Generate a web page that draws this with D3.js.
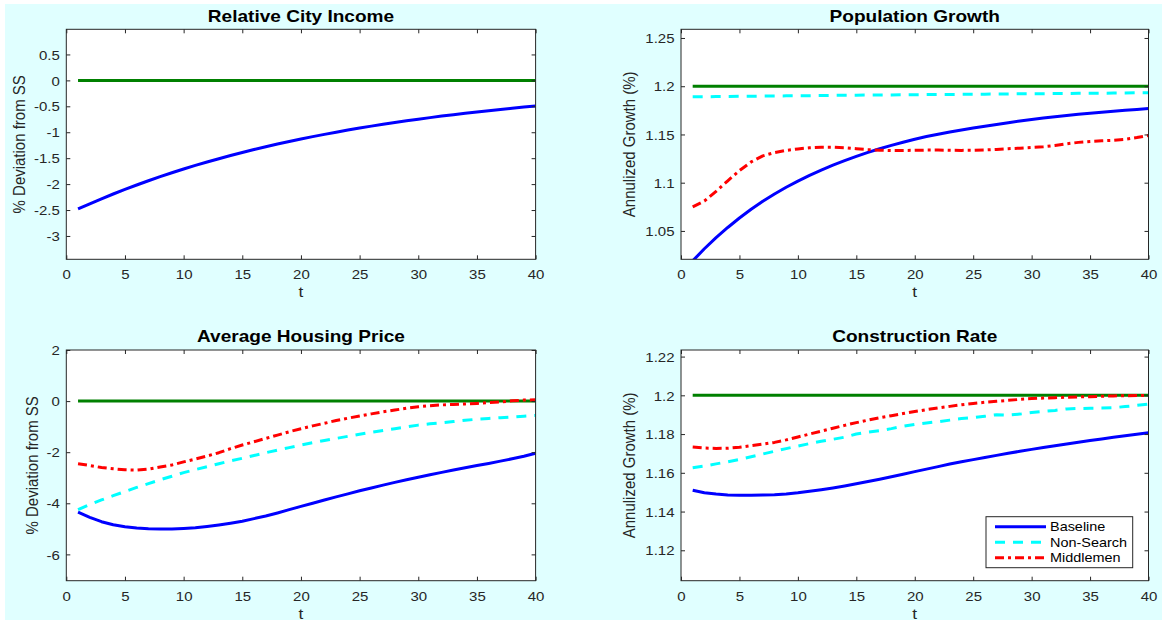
<!DOCTYPE html>
<html>
<head>
<meta charset="utf-8">
<script src="https://cdn.jsdelivr.net/npm/d3@7/dist/d3.min.js"></script>
<style>
  body { margin: 0; background: #fff; }
  text { font-family: "Liberation Sans", Arial, Helvetica, sans-serif; }
</style>
</head>
<body>
<svg id="fig" width="1162" height="620"></svg>
<script>
/* ---------- data ---------- */
const tSteps = [1,2,3,4,5,6,7,8,9,10,11,12,13,14,15,16,17,18,19,20,
                21,22,23,24,25,26,27,28,29,30,31,32,33,34,35,36,37,38,39,40]

const xTicks = [0,5,10,15,20,25,30,35,40]

// Relative City Income
const incomeTicks = [-3,-2.5,-2,-1.5,-1,-0.5,0,0.5]
const incomeSS = [0,0,0,0,0,0,0,0,0,0,0,0,0,0,0,0,0,0,0,0,
                  0,0,0,0,0,0,0,0,0,0,0,0,0,0,0,0,0,0,0,0]
const incomeBaseline = [-2.480,-2.380,-2.283,-2.191,-2.102,-2.017,-1.935,-1.857,-1.782,-1.709,
                        -1.640,-1.574,-1.510,-1.449,-1.390,-1.334,-1.280,-1.228,-1.178,-1.131,
                        -1.085,-1.041,-0.999,-0.958,-0.919,-0.882,-0.847,-0.812,-0.779,-0.748,
                        -0.718,-0.688,-0.661,-0.634,-0.608,-0.584,-0.560,-0.537,-0.515,-0.495]

// Population Growth
const popTicks = [1.05,1.1,1.15,1.2,1.25]
const popSS = [1.2,1.2,1.2,1.2,1.2,1.2,1.2,1.2,1.2,1.2,1.2,1.2,1.2,1.2,1.2,1.2,1.2,1.2,1.2,1.2,
               1.2,1.2,1.2,1.2,1.2,1.2,1.2,1.2,1.2,1.2,1.2,1.2,1.2,1.2,1.2,1.2,1.2,1.2,1.2,1.2]
const popBaseline = [1.0190,1.0315,1.0430,1.0536,1.0634,1.0724,1.0807,1.0883,1.0953,1.1017,
                     1.1076,1.1131,1.1182,1.1229,1.1273,1.1314,1.1352,1.1387,1.1420,1.1451,
                     1.1478,1.1503,1.1526,1.1547,1.1567,1.1586,1.1604,1.1622,1.1639,1.1655,
                     1.1670,1.1684,1.1697,1.1709,1.1720,1.1731,1.1741,1.1750,1.1759,1.1768]
const popNonSearch = [1.1890,1.1891,1.1893,1.1894,1.1895,1.1896,1.1898,1.1899,1.1900,1.1901,
                      1.1902,1.1903,1.1905,1.1906,1.1907,1.1908,1.1909,1.1910,1.1911,1.1912,
                      1.1913,1.1914,1.1915,1.1916,1.1917,1.1918,1.1919,1.1920,1.1921,1.1922,
                      1.1923,1.1924,1.1925,1.1926,1.1927,1.1928,1.1929,1.1930,1.1932,1.1933]
const popMiddlemen = [1.0750,1.0810,1.0910,1.1020,1.1125,1.1215,1.1278,1.1312,1.1335,1.1350,
                      1.1362,1.1368,1.1368,1.1362,1.1352,1.1343,1.1337,1.1334,1.1334,1.1336,
                      1.1338,1.1338,1.1336,1.1335,1.1336,1.1339,1.1345,1.1352,1.1358,1.1365,
                      1.1372,1.1385,1.1403,1.1418,1.1428,1.1435,1.1440,1.1450,1.1468,1.1490]

// Average Housing Price
const priceTicks = [-6,-4,-2,0,2]
const priceSS = [0,0,0,0,0,0,0,0,0,0,0,0,0,0,0,0,0,0,0,0,
                 0,0,0,0,0,0,0,0,0,0,0,0,0,0,0,0,0,0,0,0]
const priceBaseline = [-4.35,-4.55,-4.72,-4.84,-4.92,-4.97,-5.00,-5.01,-5.01,-4.99,
                       -4.96,-4.91,-4.85,-4.78,-4.70,-4.60,-4.50,-4.38,-4.25,-4.12,
                       -4.00,-3.87,-3.75,-3.63,-3.51,-3.40,-3.29,-3.18,-3.08,-2.98,
                       -2.88,-2.79,-2.70,-2.61,-2.52,-2.44,-2.35,-2.26,-2.16,-2.04]
const priceNonSearch = [-4.25,-4.05,-3.87,-3.70,-3.54,-3.38,-3.23,-3.08,-2.94,-2.80,
                        -2.68,-2.57,-2.45,-2.34,-2.24,-2.13,-2.02,-1.92,-1.82,-1.72,
                        -1.63,-1.54,-1.46,-1.38,-1.30,-1.22,-1.15,-1.08,-1.01,-0.94,
                        -0.89,-0.85,-0.80,-0.75,-0.71,-0.68,-0.65,-0.62,-0.59,-0.56]
const priceMiddlemen = [-2.45,-2.52,-2.60,-2.65,-2.69,-2.70,-2.66,-2.58,-2.50,-2.38,
                        -2.27,-2.15,-2.02,-1.86,-1.72,-1.59,-1.46,-1.33,-1.20,-1.08,
                        -0.97,-0.87,-0.76,-0.67,-0.58,-0.50,-0.42,-0.35,-0.28,-0.22,
                        -0.18,-0.15,-0.13,-0.11,-0.09,-0.06,-0.03,0.01,0.04,0.05]

// Construction Rate
const constrTicks = [1.12,1.14,1.16,1.18,1.2,1.22]
const constrSS = [1.2,1.2,1.2,1.2,1.2,1.2,1.2,1.2,1.2,1.2,1.2,1.2,1.2,1.2,1.2,1.2,1.2,1.2,1.2,1.2,
                  1.2,1.2,1.2,1.2,1.2,1.2,1.2,1.2,1.2,1.2,1.2,1.2,1.2,1.2,1.2,1.2,1.2,1.2,1.2,1.2]
const constrBaseline = [1.1510,1.1497,1.1490,1.1486,1.1484,1.1484,1.1485,1.1487,1.1491,1.1497,
                        1.1505,1.1513,1.1522,1.1532,1.1543,1.1555,1.1567,1.1580,1.1593,1.1606,
                        1.1619,1.1632,1.1645,1.1657,1.1668,1.1679,1.1690,1.1701,1.1711,1.1721,
                        1.1731,1.1740,1.1749,1.1758,1.1767,1.1775,1.1783,1.1791,1.1799,1.1807]
const constrNonSearch = [1.1626,1.1635,1.1646,1.1657,1.1669,1.1683,1.1697,1.1711,1.1725,1.1738,
                         1.1751,1.1763,1.1773,1.1784,1.1800,1.1810,1.1818,1.1828,1.1840,1.1850,
                         1.1857,1.1864,1.1872,1.1880,1.1885,1.1892,1.1900,1.1898,1.1903,1.1911,
                         1.1917,1.1922,1.1930,1.1932,1.1933,1.1934,1.1936,1.1942,1.1948,1.1955]
const constrMiddlemen = [1.1733,1.1728,1.1726,1.1727,1.1732,1.1740,1.1748,1.1757,1.1770,1.1785,
                         1.1800,1.1815,1.1830,1.1845,1.1859,1.1872,1.1884,1.1895,1.1906,1.1916,
                         1.1926,1.1935,1.1943,1.1951,1.1958,1.1964,1.1969,1.1974,1.1979,1.1983,
                         1.1986,1.1988,1.1990,1.1992,1.1993,1.1995,1.1997,1.1998,1.1999,1.2000]

const legendNames = ["Baseline", "Non-Search", "Middlemen"]

/* ---------- styles ---------- */
const axisColor = "#262626"
const stretch = 1.155   // the reference is a bit wider than tall
const styles = {
  ss:   { color: "#008000", dash: null },
  base: { color: "#0000ff", dash: null },
  nons: { color: "#00ffff", dash: "10,8" },
  mid:  { color: "#ff0000", dash: "9,4,3,4" }
}

const panels = [
  { title: "Relative City Income", ylabel: "% Deviation from SS",
    box: [66.3, 535.6, 29.3, 259.3], yDomain: [-3.45, 0.985], yTicks: incomeTicks,
    titleY: 22.3, ylabX: 25,
    series: [["base", incomeBaseline], ["ss", incomeSS]] },
  { title: "Population Growth", ylabel: "Annulized Growth (%)",
    box: [681, 1148.5, 29.3, 259.3], yDomain: [1.0206, 1.259], yTicks: popTicks,
    titleY: 22.3, ylabX: 635,
    series: [["ss", popSS], ["base", popBaseline], ["nons", popNonSearch], ["mid", popMiddlemen]] },
  { title: "Average Housing Price", ylabel: "% Deviation from SS",
    box: [66.3, 535.6, 350, 580.7], yDomain: [-7.03, 2], yTicks: priceTicks,
    titleY: 342, ylabX: 38,
    series: [["ss", priceSS], ["base", priceBaseline], ["nons", priceNonSearch], ["mid", priceMiddlemen]] },
  { title: "Construction Rate", ylabel: "Annulized Growth (%)",
    box: [681, 1148.5, 350, 580.7], yDomain: [1.1043, 1.2234], yTicks: constrTicks,
    titleY: 342, ylabX: 635, legend: true,
    series: [["ss", constrSS], ["base", constrBaseline], ["nons", constrNonSearch], ["mid", constrMiddlemen]] }
]

/* ---------- drawing ---------- */
const svg = d3.select("#fig")

svg.append("rect").attr("x", 0).attr("y", 0).attr("width", 1162).attr("height", 620).attr("fill", "#ffffff")
svg.append("rect").attr("x", 5).attr("y", 4).attr("width", 1157).attr("height", 616).attr("fill", "#e0ffff")

function wideText(sel, x, y, rotate) {
  if (rotate) sel.attr("transform", `translate(${x},${y}) rotate(-90) scale(1,${stretch})`)
  else sel.attr("transform", `translate(${x},${y}) scale(${stretch},1)`)
  return sel
}

panels.forEach(function (p, i) {
  const [left, right, top, bottom] = p.box
  const x = d3.scaleLinear().domain([0, 40]).range([left, right])
  const y = d3.scaleLinear().domain(p.yDomain).range([bottom, top])
  const g = svg.append("g")

  g.append("rect")
    .attr("x", left).attr("y", top)
    .attr("width", right - left).attr("height", bottom - top)
    .attr("fill", "#ffffff")

  // clip the curves to the plot box
  g.append("clipPath").attr("id", "clip" + i)
    .append("rect")
    .attr("x", left).attr("y", top)
    .attr("width", right - left).attr("height", bottom - top)

  const line = d3.line()
    .x(function (d, k) { return x(tSteps[k]) })
    .y(function (d) { return y(d) })

  const curves = g.append("g").attr("clip-path", "url(#clip" + i + ")")
  p.series.forEach(function (s) {
    const st = styles[s[0]]
    curves.append("path")
      .datum(s[1])
      .attr("d", line)
      .attr("fill", "none")
      .attr("stroke", st.color)
      .attr("stroke-width", 3)
      .attr("stroke-linejoin", "round")
      .attr("stroke-dasharray", st.dash)
  })

  // axes: ticks point inward on all four sides
  const ax = g.append("g").attr("transform", `translate(0,${bottom})`)
    .call(d3.axisBottom(x).tickValues(xTicks).tickSize(-4).tickSizeOuter(0).tickFormat(d => String(d)))
  const ay = g.append("g").attr("transform", `translate(${left},0)`)
    .call(d3.axisLeft(y).tickValues(p.yTicks).tickSize(-4).tickSizeOuter(0).tickFormat(d => String(d)))
  const axTop = g.append("g").attr("transform", `translate(0,${top})`)
    .call(d3.axisTop(x).tickValues(xTicks).tickSize(-4).tickSizeOuter(0).tickFormat(""))
  const ayRight = g.append("g").attr("transform", `translate(${right},0)`)
    .call(d3.axisRight(y).tickValues(p.yTicks).tickSize(-4).tickSizeOuter(0).tickFormat(""))

  ;[ax, ay, axTop, ayRight].forEach(function (a) {
    a.select(".domain").remove()
    a.selectAll(".tick line").attr("stroke", axisColor)
  })

  ax.selectAll(".tick text")
    .attr("y", null).attr("dy", null)
    .attr("fill", axisColor).attr("font-size", 13)
    .each(function () { wideText(d3.select(this), 0, 20) })
  ay.selectAll(".tick text")
    .attr("x", null).attr("dy", "0.36em")
    .attr("fill", axisColor).attr("font-size", 13)
    .each(function () { wideText(d3.select(this), -6.5, 0) })

  g.append("rect")
    .attr("x", left).attr("y", top)
    .attr("width", right - left).attr("height", bottom - top)
    .attr("fill", "none").attr("stroke", axisColor).attr("stroke-width", 1)

  // title and labels
  wideText(g.append("text"), (left + right) / 2, p.titleY)
    .attr("text-anchor", "middle").attr("font-size", 16.5).attr("font-weight", "bold")
    .attr("fill", "#000").text(p.title)
  wideText(g.append("text"), (left + right) / 2, bottom + 38)
    .attr("text-anchor", "middle").attr("font-size", 15).attr("fill", axisColor).text("t")
  wideText(g.append("text"), p.ylabX, (top + bottom) / 2, true)
    .attr("text-anchor", "middle").attr("font-size", 15).attr("fill", axisColor).text(p.ylabel)

  if (p.legend) {
    const lg = g.append("g")
    lg.append("rect")
      .attr("x", 986).attr("y", 516.7).attr("width", 146.7).attr("height", 51)
      .attr("fill", "#ffffff").attr("stroke", axisColor).attr("stroke-width", 1)
    const keys = ["base", "nons", "mid"]
    legendNames.forEach(function (name, k) {
      const ly = 526.7 + k * 15.5
      lg.append("line")
        .attr("x1", 995).attr("x2", 1046).attr("y1", ly).attr("y2", ly)
        .attr("stroke", styles[keys[k]].color).attr("stroke-width", 3)
        .attr("stroke-dasharray", styles[keys[k]].dash)
      wideText(lg.append("text"), 1050, ly + 4.6)
        .attr("font-size", 12.5).attr("fill", "#000").text(name)
    })
  }
})
</script>
</body>
</html>
